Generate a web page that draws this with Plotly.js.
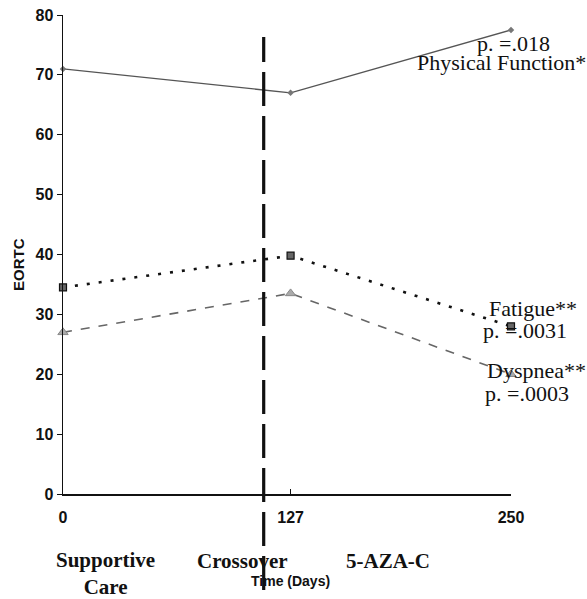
<!DOCTYPE html>
<html>
<head>
<meta charset="utf-8">
<script src="https://cdn.plot.ly/plotly-3.0.1.min.js"></script>
<style>
  html, body { margin: 0; padding: 0; background: #fff; }
  #chart { width: 587px; height: 599px; }
</style>
</head>
<body>
<div id="chart"></div>
<script>
// EORTC quality-of-life scores over time (days)
const days = [0, 127, 250];
const physicalFunction = [71, 67, 77.5];
const fatigue = [34.5, 39.8, 28];
const dyspnea = [27, 33.5, 20];
const crossoverDay = 112;
const xTickVals = [0, 127, 250];
const yTickVals = [0, 10, 20, 30, 40, 50, 60, 70, 80];

const W = 587, H = 599;
const M = { l: 63, r: 76, t: 15, b: 105 };
const plotW = W - M.l - M.r, plotH = H - M.t - M.b;
// pixel helpers for text placed relative to the plot area
const px = x => (x - M.l) / plotW;
const py = y => (H - M.b - y) / plotH;

const serif = 'Liberation Serif, Times New Roman, serif';
const sans = 'Liberation Sans, Arial, sans-serif';

const traces = [
  {
    x: days, y: physicalFunction, mode: 'lines+markers', cliponaxis: false,
    line: { color: '#555', width: 1.3 },
    marker: { symbol: 'diamond', size: 5, color: '#777' }
  },
  {
    x: days, y: fatigue, mode: 'lines+markers', cliponaxis: false,
    line: { color: '#111', width: 2.6, dash: '3px,9px' },
    marker: { symbol: 'square', size: 7, color: '#666', line: { color: '#111', width: 1.2 } }
  },
  {
    x: days, y: dyspnea, mode: 'lines+markers', cliponaxis: false,
    line: { color: '#666', width: 1.6, dash: '9px,9px' },
    marker: { symbol: 'triangle-up', size: 9, color: '#aaa', line: { color: '#888', width: 1 } }
  }
];

function note(text, x, y, opts) {
  return Object.assign({
    text: text, xref: 'paper', yref: 'paper', x: px(x), y: py(y),
    xanchor: 'left', yanchor: 'middle', showarrow: false, borderpad: 0,
    font: { family: serif, size: 22, color: '#111' }
  }, opts || {});
}

const boldSerif = { family: serif, size: 21, color: '#111', weight: 'bold' };

const annotations = [
  note('p. =.018', 476, 44),
  note('Physical Function*', 416, 63),
  note('Fatigue**', 488, 308),
  note('p. =.0031', 482, 330),
  note('Dyspnea**', 486, 370),
  note('p. =.0003', 484, 393),
  note('Supportive<br>Care', 105, 573, { xanchor: 'center', font: boldSerif }),
  note('Crossover', 242, 561, { xanchor: 'center', font: boldSerif }),
  note('5-AZA-C', 388, 561, { xanchor: 'center', font: boldSerif }),
  note('Time (Days)', 290, 581, { xanchor: 'center', font: { family: sans, size: 14, color: '#111', weight: 'bold' } }),
  note('EORTC', 18, 265, { xanchor: 'center', textangle: -90, font: { family: sans, size: 15, color: '#111', weight: 'bold' } })
];

const layout = {
  width: W, height: H,
  margin: M,
  paper_bgcolor: '#fff', plot_bgcolor: '#fff',
  showlegend: false,
  xaxis: {
    range: [0, 250], tickvals: xTickVals, ticktext: xTickVals.map(String),
    showgrid: false, zeroline: false, showline: true, linecolor: '#111', linewidth: 1.5,
    ticks: 'inside', ticklen: 5, tickcolor: '#111', ticklabelstandoff: 8,
    tickfont: { family: sans, size: 16, color: '#111', weight: 'bold' }
  },
  yaxis: {
    range: [0, 80], tickvals: yTickVals,
    showgrid: false, zeroline: false, showline: true, linecolor: '#111', linewidth: 1.5,
    ticks: 'outside', ticklen: 5, tickcolor: '#111',
    tickfont: { family: sans, size: 16, color: '#111', weight: 'bold' }
  },
  shapes: [{
    type: 'line', xref: 'x', yref: 'paper',
    x0: crossoverDay, x1: crossoverDay, y0: py(590), y1: py(37),
    line: { color: '#111', width: 3.2, dash: '34px,10px' }
  }],
  annotations: annotations
};

Plotly.newPlot('chart', traces, layout, { displayModeBar: false, staticPlot: true });
</script>
</body>
</html>
